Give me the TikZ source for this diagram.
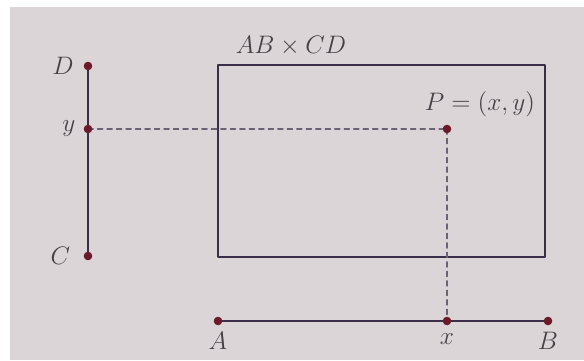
\documentclass[tikz,border=0pt]{standalone}
\usepackage{amsmath}
\usetikzlibrary{positioning}
\definecolor{paper}{RGB}{220,213,215}
\definecolor{ink}{RGB}{58,46,72}
\definecolor{dotred}{RGB}{108,26,42}
\definecolor{txt}{RGB}{70,66,72}

\begin{document}
\begin{tikzpicture}[line cap=round,line join=round,x=0.02cm,y=0.02cm,
  seg/.style={line width=1.2pt,color=ink},
  guide/.style={line width=0.7pt,color=ink!75,dash pattern=on 3pt off 2.4pt},
  pt/.style={fill=dotred},
  lbl/.style={color=txt,font=\Large,inner sep=1pt}]
		\useasboundingbox (0,0) rectangle (584,360);
		\fill[white] (0,0) rectangle (584,360);
		\fill[paper] (10,0) rectangle (584,353);
		% points
		\coordinate (D) at (88,294);
		\coordinate (Y) at (88,231);
		\coordinate (C) at (88,104);
		\coordinate (A) at (218,39);
		\coordinate (X) at (447,39);
		\coordinate (B) at (548,39);
		\coordinate (P) at (447,231);
		% product rectangle
		\draw[seg] (218,103) rectangle (545,295);
		\draw[seg] (C)-- (D);
		\draw[seg] (A)-- (B);
		\draw[guide] (Y)-- (P);
		\draw[guide] (P)-- (X);
		\foreach \q in {D,Y,C,A,X,B,P}
			\fill[pt] (\q) circle (4.3);
		% labels
		\node[lbl,left=7pt of D] (lD) {$D$};
		\node[lbl,left=6pt of Y] (lY) {$y$};
		\node[lbl,left=9pt of C] (lC) {$C$};
		\node[lbl,below=5pt of A] (lA) {$A$};
		\node[lbl,below=6pt of X] (lX) {$x$};
		\node[lbl,below=5pt of B] (lB) {$B$};
		\node[lbl] (lP) at (480,256) {$P=(x,y)$};
		\node[lbl] (lR) at (291,314) {$AB\times CD$};
	\end{tikzpicture}
\end{document}
